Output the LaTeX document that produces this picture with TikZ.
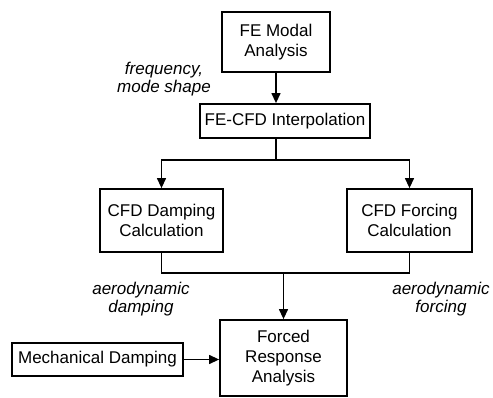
\documentclass[tikz,border=0pt]{standalone}
\usepackage{fontspec}
\setsansfont{Liberation Sans}
\usetikzlibrary{arrows.meta}
\tikzset{
  block/.style={draw,line width=1.8pt,align=center,inner sep=1pt,font=\sffamily\fontsize{17}{20}\selectfont},
  note/.style={align=center,font=\sffamily\itshape\fontsize{17}{18}\selectfont},
  flow/.style={line width=1.3pt,-{Triangle[length=10pt,width=9pt]}},
  wire/.style={line width=1.3pt},
}
\begin{document}
\begin{tikzpicture}[x=1pt,y=-1pt]
  \useasboundingbox (0,0) rectangle (493,398);
  % blocks
  \node[block,minimum width=108pt,minimum height=60pt] (modal) at (276,42) {FE Modal\\Analysis};
  \node[block,minimum width=170pt,minimum height=34pt] (interp) at (285,121) {FE-CFD Interpolation};
  \node[block,minimum width=123pt,minimum height=63pt] (damp) at (161.5,220.5) {CFD Damping\\Calculation};
  \node[block,minimum width=125pt,minimum height=63pt] (force) at (409.5,220.5) {CFD Forcing\\Calculation};
  \node[block,minimum width=127pt,minimum height=76pt] (resp) at (283.5,358) {Forced\\Response\\Analysis};
  \node[block,minimum width=171pt,minimum height=33pt] (mech) at (97.5,359.5) {Mechanical Damping};
  % labels
  \node[note] (freq) at (164,79) {frequency,\\mode shape};
  \node[note] (adamp) at (141,299) {aerodynamic\\damping};
  \node[note] (aforce) at (441,299) {aerodynamic\\forcing};
  % junctions
  \coordinate (split) at (276,160);
  \coordinate (merge) at (283.5,273);
  % connectors
  \draw[flow] (modal.south) -- (interp.north -| modal.south);
  \draw[wire] (interp.south -| split) -- (split);
  \draw[flow] (split) -| (damp.north);
  \draw[flow] (split) -| (force.north);
  \draw[wire] (damp.south) |- (merge);
  \draw[wire] (force.south) |- (merge);
  \draw[flow] (merge) -- (resp.north);
  \draw[flow] (mech.east) -- (mech.east -| resp.west);
\end{tikzpicture}
\end{document}
